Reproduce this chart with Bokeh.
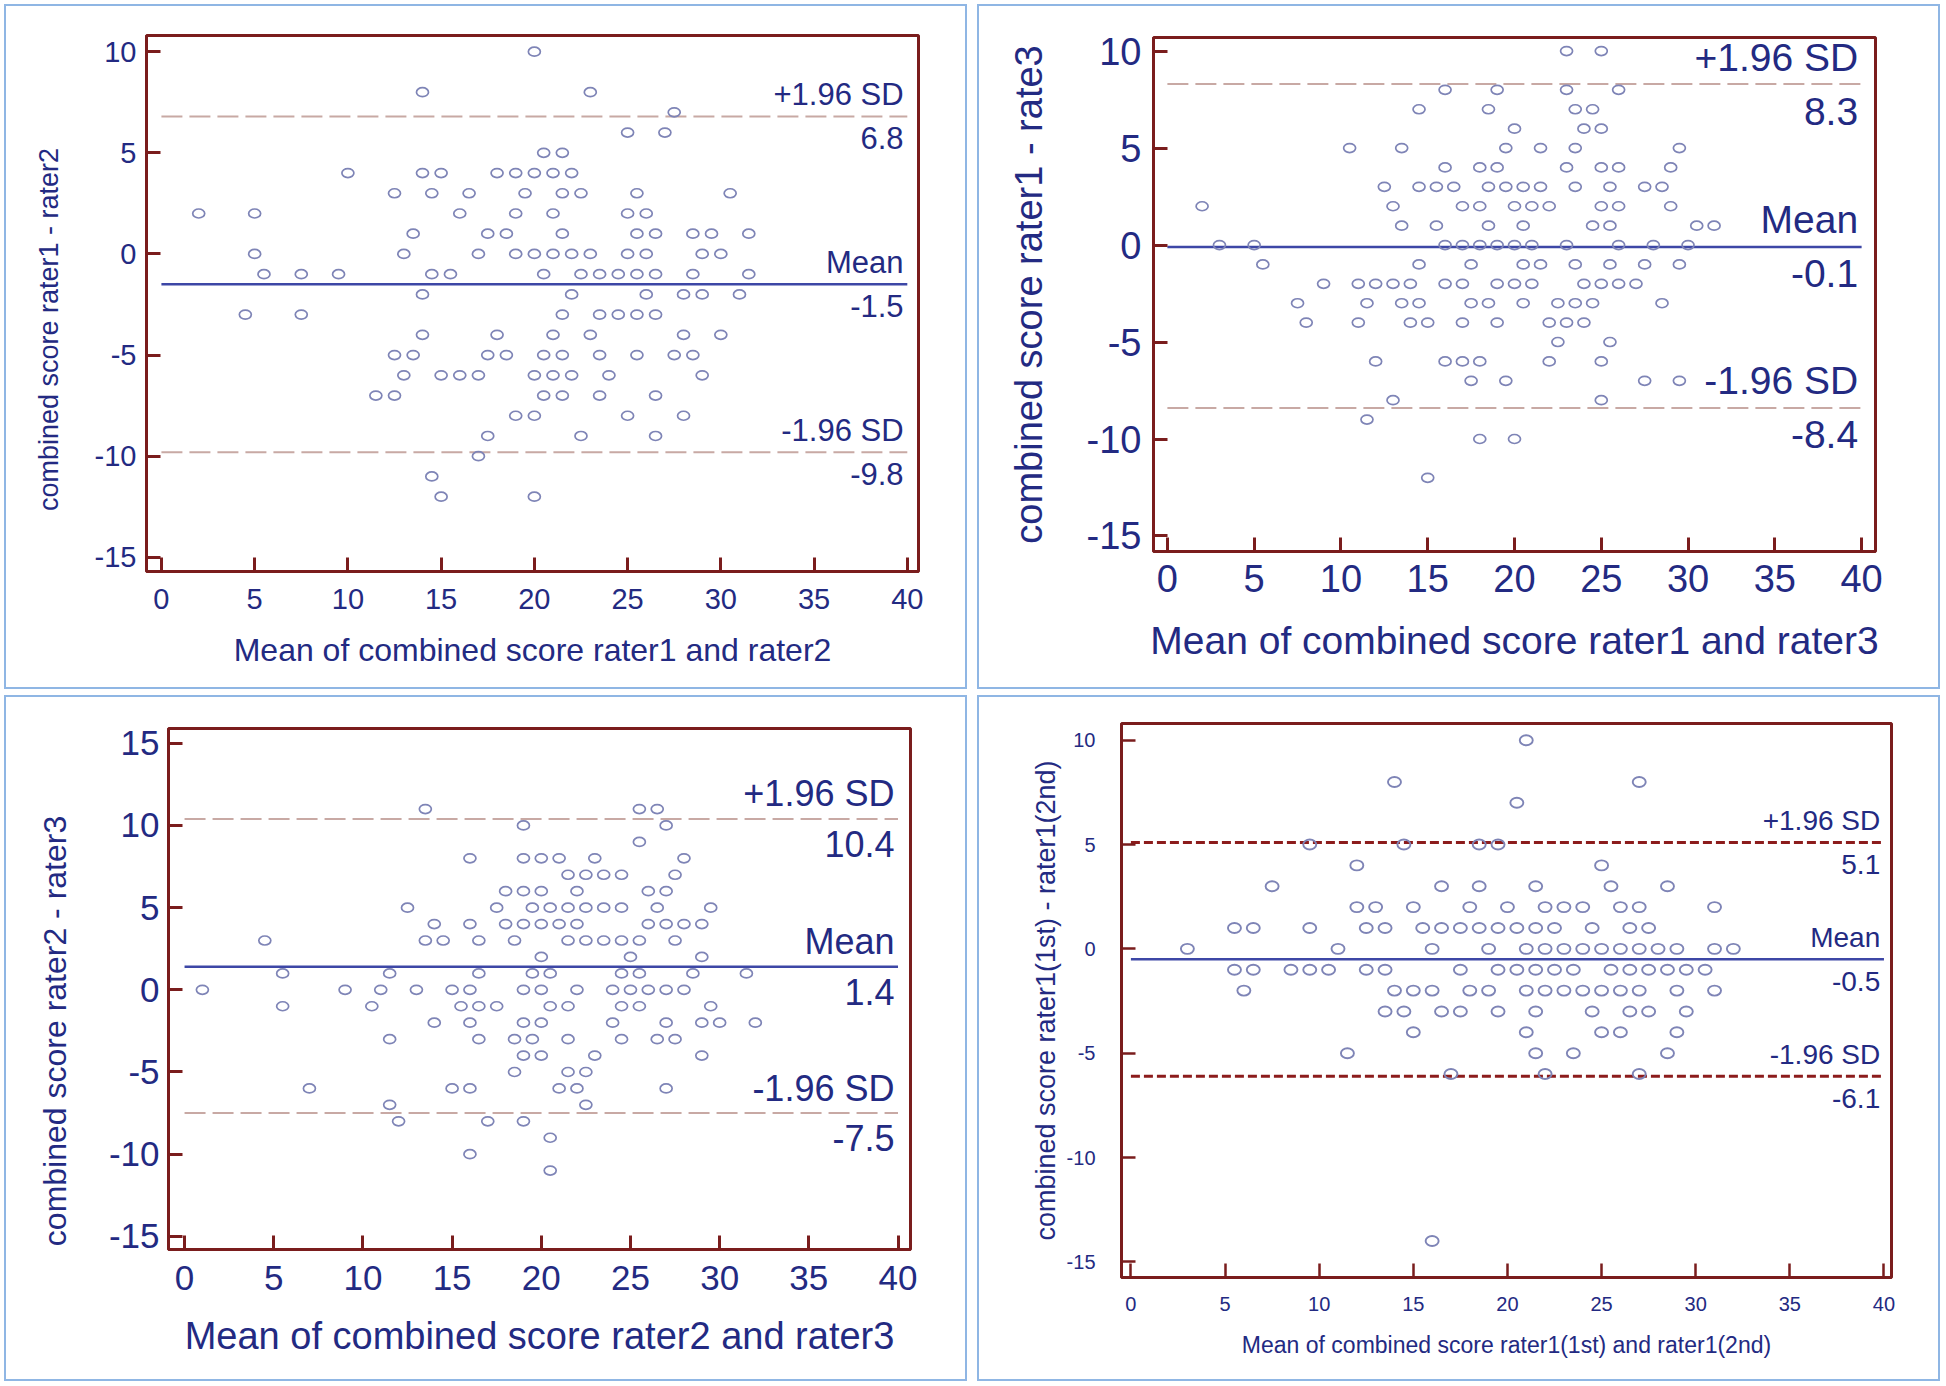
import math
from bokeh.plotting import figure
from bokeh.models import ColumnDataSource, FixedTicker, Range1d
from bokeh.embed import file_html
from bokeh.resources import INLINE
from bokeh.core.properties import value

FONT = "Liberation Sans"
TEXT = "#232a82"
FRAME = "#7a1d1d"
PT = "#7e84b6"
MEANC = "#3d47a6"
LIMC = "#c8a9a4"
LIMC4 = "#8c1c1c"
BOX = "#8fb6e4"

# ---------------- data ----------------
X_TICKS = [0, 5, 10, 15, 20, 25, 30, 35, 40]
Y_TICKS_A = [-15, -10, -5, 0, 5, 10]
Y_TICKS_B = [-15, -10, -5, 0, 5, 10, 15]
LINE_X = [0, 40]
STAT_NAMES = ["+1.96 SD", "Mean", "-1.96 SD"]

# difference value -> means at which a point is drawn
p1_rows = {
    10: [20], 8: [14, 23], 7: [27.5], 6: [25, 27], 5: [20.5, 21.5],
    4: [10, 14, 15, 18, 19, 20, 21, 22],
    3: [12.5, 14.5, 16.5, 19.5, 21.5, 22.5, 25.5, 30.5],
    2: [2, 5, 16, 19, 21, 25, 26],
    1: [13.5, 17.5, 18.5, 21.5, 25.5, 26.5, 28.5, 29.5, 31.5],
    0: [5, 13, 17, 19, 20, 21, 22, 23, 25, 26, 29, 30],
    -1: [5.5, 7.5, 9.5, 14.5, 15.5, 20.5, 22.5, 23.5, 24.5, 25.5, 26.5, 28.5, 31.5],
    -2: [14, 22, 26, 28, 29, 31],
    -3: [4.5, 7.5, 21.5, 23.5, 24.5, 25.5, 26.5],
    -4: [14, 18, 21, 23, 28, 30],
    -5: [12.5, 13.5, 17.5, 18.5, 20.5, 21.5, 23.5, 25.5, 27.5, 28.5],
    -6: [13, 15, 16, 17, 20, 21, 22, 24, 29],
    -7: [11.5, 12.5, 20.5, 21.5, 23.5, 26.5],
    -8: [19, 20, 25, 28], -9: [17.5, 22.5, 26.5], -10: [17], -11: [14.5],
    -12: [15, 20],
}
p1_stats = [6.8, -1.5, -9.8]

p2_rows = {
    10: [23, 25], 8: [16, 19, 23, 26], 7: [14.5, 18.5, 23.5, 24.5],
    6: [20, 24, 25], 5: [10.5, 13.5, 19.5, 21.5, 23.5, 29.5],
    4: [16, 18, 19, 23, 25, 26, 29],
    3: [12.5, 14.5, 15.5, 16.5, 18.5, 19.5, 20.5, 21.5, 23.5, 25.5, 27.5, 28.5],
    2: [2, 13, 17, 18, 20, 21, 22, 25, 26, 29],
    1: [13.5, 15.5, 18.5, 20.5, 24.5, 25.5, 30.5, 31.5],
    0: [3, 5, 16, 17, 18, 19, 20, 21, 23, 26, 28, 30],
    -1: [5.5, 14.5, 17.5, 20.5, 21.5, 23.5, 25.5, 27.5, 29.5],
    -2: [9, 11, 12, 13, 14, 16, 17, 19, 20, 21, 24, 25, 26, 27],
    -3: [7.5, 11.5, 13.5, 14.5, 17.5, 18.5, 20.5, 22.5, 23.5, 24.5, 28.5],
    -4: [8, 11, 14, 15, 17, 19, 22, 23, 24],
    -5: [22.5, 25.5], -6: [12, 16, 17, 18, 22, 25],
    -7: [17.5, 19.5, 27.5, 29.5], -8: [13, 25], -9: [11.5], -10: [18, 20],
    -12: [15],
}
p2_stats = [8.3, -0.1, -8.4]

p3_rows = {
    11: [13.5, 25.5, 26.5], 10: [19, 27], 9: [25.5],
    8: [16, 19, 20, 21, 23, 28], 7: [21.5, 22.5, 23.5, 24.5, 27.5],
    6: [18, 19, 20, 22, 26, 27],
    5: [12.5, 17.5, 19.5, 20.5, 21.5, 22.5, 23.5, 24.5, 26.5, 29.5],
    4: [14, 16, 18, 19, 20, 21, 22, 26, 27, 28, 29],
    3: [4.5, 13.5, 14.5, 16.5, 18.5, 21.5, 22.5, 23.5, 24.5, 25.5, 27.5],
    2: [20, 25, 29],
    1: [5.5, 11.5, 16.5, 19.5, 20.5, 24.5, 25.5, 28.5, 31.5],
    0: [1, 9, 11, 13, 15, 16, 19, 20, 22, 24, 25, 26, 27, 28],
    -1: [5.5, 10.5, 15.5, 16.5, 17.5, 20.5, 21.5, 24.5, 25.5, 29.5],
    -2: [14, 16, 19, 20, 24, 27, 29, 30, 32],
    -3: [11.5, 16.5, 18.5, 19.5, 21.5, 24.5, 26.5, 27.5],
    -4: [19, 20, 23, 29], -5: [18.5, 21.5, 22.5],
    -6: [7, 15, 16, 21, 22, 27], -7: [11.5, 22.5], -8: [12, 17, 19],
    -9: [20.5], -10: [16], -11: [20.5],
}
p3_stats = [10.4, 1.4, -7.5]

p4_rows = {
    10: [21], 8: [14, 27], 7: [20.5], 5: [9.5, 14.5, 18.5, 19.5], 4: [12, 25],
    3: [7.5, 16.5, 18.5, 21.5, 25.5, 28.5],
    2: [12, 13, 15, 18, 20, 22, 23, 24, 26, 27, 31],
    1: [5.5, 6.5, 9.5, 12.5, 13.5, 15.5, 16.5, 17.5, 18.5, 19.5, 20.5, 21.5,
        22.5, 24.5, 26.5, 27.5],
    0: [3, 11, 16, 19, 21, 22, 23, 24, 25, 26, 27, 28, 29, 31, 32],
    -1: [5.5, 6.5, 8.5, 9.5, 10.5, 12.5, 13.5, 17.5, 19.5, 20.5, 21.5, 22.5,
         23.5, 25.5, 26.5, 27.5, 28.5, 29.5, 30.5],
    -2: [6, 14, 15, 16, 18, 19, 21, 22, 23, 24, 25, 26, 27, 29, 31],
    -3: [13.5, 14.5, 16.5, 17.5, 19.5, 21.5, 24.5, 26.5, 27.5, 29.5],
    -4: [15, 21, 25, 26, 29], -5: [11.5, 21.5, 23.5, 28.5], -6: [17, 22, 27],
    -14: [16],
}
p4_stats = [5.1, -0.5, -6.1]

p1_labels = ["Mean of combined score rater1 and rater2", "combined score rater1 - rater2"]
p2_labels = ["Mean of combined score rater1 and rater3", "combined score rater1 - rate3"]
p3_labels = ["Mean of combined score rater2 and rater3", "combined score  rater2 - rater3"]
p4_labels = ["Mean of combined score rater1(1st) and rater1(2nd)",
             "combined score rater1(1st) - rater1(2nd)"]


def flatten(rows):
    xs, ys = [], []
    for y, xl in rows.items():
        for x in xl:
            xs.append(x)
            ys.append(y)
    return xs, ys


def panel(rows, stats, labels, cfg):
    # cfg["pos"] is the light-blue box; the plot sits 2px inside it
    left, top, w, h = cfg["pos"]
    mb = [m - 2 for m in cfg["mb"]]
    p = figure(width=w - 4, height=h - 4, output_backend="svg", toolbar_location=None,
               x_range=Range1d(*cfg["xr"]), y_range=Range1d(*cfg["yr"]),
               min_border_left=mb[0], min_border_right=mb[1],
               min_border_top=mb[2], min_border_bottom=mb[3],
               background_fill_color="white", border_fill_color="white")
    p.grid.visible = False
    p.outline_line_color = FRAME
    p.outline_line_width = 3
    p.outline_line_alpha = 1.0
    p.xaxis.ticker = FixedTicker(ticks=X_TICKS)
    p.yaxis.ticker = FixedTicker(ticks=cfg["yt"])
    p.xaxis.major_label_overrides = {t: str(t) for t in X_TICKS}
    p.yaxis.major_label_overrides = {t: str(t) for t in cfg["yt"]}
    p.xaxis.axis_label = labels[0]
    for ax in (p.xaxis[0], p.yaxis[0]):
        ax.axis_line_color = FRAME
        ax.axis_line_width = 3
        ax.major_tick_line_color = FRAME
        ax.major_tick_line_width = cfg["tw"]
        ax.major_tick_in = 14
        ax.major_tick_out = 0
        ax.minor_tick_line_color = None
        ax.major_label_text_font = FONT
        ax.major_label_text_font_size = f"{cfg['fs_tick']}px"
        ax.major_label_text_color = TEXT
        ax.axis_label_text_font = FONT
        ax.axis_label_text_font_style = "normal"
        ax.axis_label_text_color = TEXT
    p.xaxis.axis_label_text_font_size = f"{cfg['fs_xl']}px"
    p.xaxis.major_label_standoff = cfg["so"][0]
    p.xaxis.axis_label_standoff = cfg["so"][1]
    p.yaxis.major_label_standoff = cfg["so"][2]
    if cfg.get("ylab_box") is None:
        p.yaxis.axis_label = labels[1]
        p.yaxis.axis_label_text_font_size = f"{cfg['fs_yl']}px"
        p.yaxis.axis_label_standoff = cfg["so"][3]

    up, mean, lo = stats
    lim_col = cfg["limc"]
    p.line(LINE_X, [up, up], line_color=lim_col, line_width=cfg["lw"], line_dash=cfg["dash"])
    p.line(LINE_X, [lo, lo], line_color=lim_col, line_width=cfg["lw"], line_dash=cfg["dash"])
    p.line(LINE_X, [mean, mean], line_color=MEANC, line_width=2.5)

    xs, ys = flatten(rows)
    src = ColumnDataSource(data=dict(x=xs, y=ys))
    p.ellipse(x="x", y="y", width=cfg["mk"][0], height=cfg["mk"][1],
              width_units="screen", height_units="screen", fill_color=None,
              line_color=PT, line_width=cfg["mlw"], source=src)

    d = cfg["off"]
    tsrc = ColumnDataSource(data=dict(
        x=[39.8] * 6,
        y=[up, up, mean, mean, lo, lo],
        t=[STAT_NAMES[0], f"{up:.1f}", STAT_NAMES[1], f"{mean:.1f}",
           STAT_NAMES[2], f"{lo:.1f}"],
        o=[-d, d, -d, d, -d, d],
    ))
    p.text(x="x", y="y", text="t", y_offset="o", source=tsrc,
           text_align="right", text_baseline="middle", text_color=TEXT,
           text_font=value(FONT), text_font_size=f"{cfg['fs_ann']}px")
    p.styles = {"position": "absolute", "left": f"{left + 2}px", "top": f"{top + 2}px",
                "box-shadow": f"0 0 0 2px {BOX}"}
    out = [p]

    if cfg.get("ylab_box") is not None:
        # a vertical axis title that is not centred on the frame (as in the original)
        bl, bt, bw, bh = cfg["ylab_box"]
        q = figure(width=bw, height=bh, output_backend="svg", toolbar_location=None,
                   x_range=Range1d(0, 1), y_range=Range1d(0, 1),
                   x_axis_type=None, y_axis_type=None, min_border=0,
                   outline_line_color=None, background_fill_alpha=0,
                   border_fill_alpha=0)
        q.text(x=[0.5], y=[0.5], text=[labels[1]], angle=math.pi / 2,
               text_align="center", text_baseline="middle", text_color=TEXT,
               text_font=value(FONT), text_font_size=f"{cfg['fs_yl']}px")
        q.styles = {"position": "absolute", "left": f"{bl}px", "top": f"{bt}px"}
        out.append(q)
    return out


cfg_common = dict(limc=LIMC, lw=2, dash="21 7", tw=3, mk=(12, 9), mlw=1.7)

p1 = panel(p1_rows, p1_stats, p1_labels, dict(cfg_common, pos=(4, 4, 963, 685),
           xr=(-0.8, 40.6), yr=(-15.7, 10.8), yt=Y_TICKS_A, mb=(142, 49, 31, 118),
           fs_tick=29, fs_xl=32, fs_yl=27, fs_ann=31, so=(17, 20, 10, 22), off=22,
           ylab_box=(29, 138, 38, 382)))
p2 = panel(p2_rows, p2_stats, p2_labels, dict(cfg_common, pos=(977, 4, 963, 685),
           xr=(-0.8, 40.8), yr=(-15.8, 10.7), yt=Y_TICKS_A, mb=(176, 65, 33, 138),
           fs_tick=38, fs_xl=39, fs_yl=38, fs_ann=39, so=(13, 24, 12, 34), off=27))
p3 = panel(p3_rows, p3_stats, p3_labels, dict(cfg_common, pos=(4, 695, 963, 686),
           xr=(-0.9, 40.7), yr=(-15.8, 15.9), yt=Y_TICKS_B, mb=(164, 57, 33, 132),
           fs_tick=35, fs_xl=38, fs_yl=32, fs_ann=36, so=(16, 22, 9, 26), off=25,
           ylab_box=(32, 796, 44, 460)))
p4 = panel(p4_rows, p4_stats, p4_labels, dict(limc=LIMC4, lw=3, dash="9 4", tw=2.5,
           mk=(13, 10), mlw=1.9, pos=(977, 695, 963, 686),
           xr=(-0.5, 40.4), yr=(-15.75, 10.8), yt=Y_TICKS_A, mb=(144, 49, 28, 104),
           fs_tick=20, fs_xl=23, fs_yl=27, fs_ann=28, so=(19, 18, 26, 3), off=22))

open("out.html", "w").write(file_html(p1 + p2 + p3 + p4, INLINE))
